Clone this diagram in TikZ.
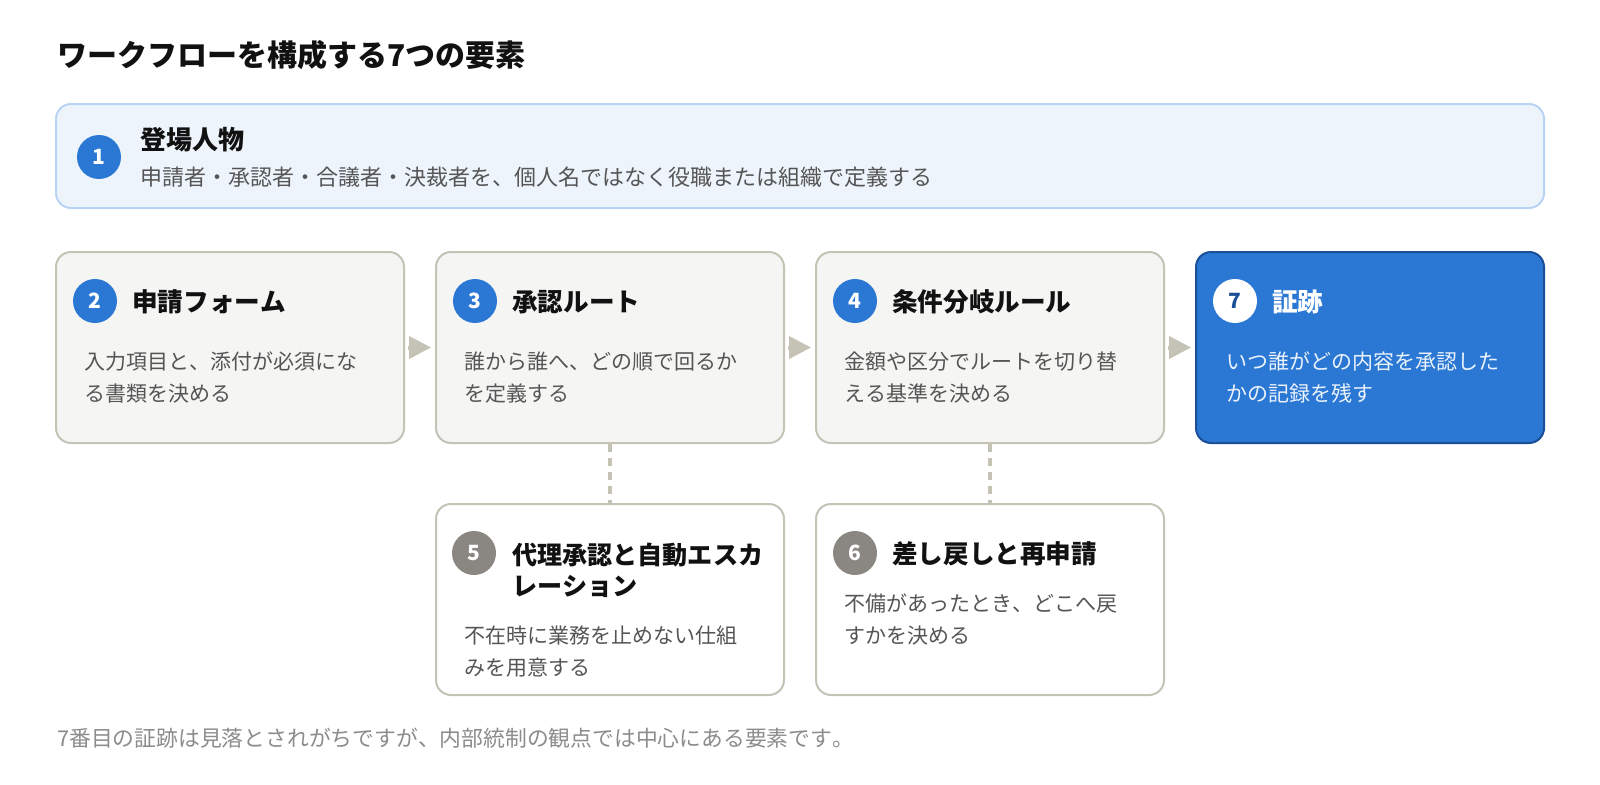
\documentclass[tikz,border=0pt]{standalone}
\usepackage{fontspec}
\setmainfont{Noto Sans CJK JP}[Kerning=Off]
\usetikzlibrary{arrows.meta}
\definecolor{blueA}{HTML}{2B78D4}
\definecolor{blueB}{HTML}{1B4F98}
\definecolor{lblue}{HTML}{EDF4FC}
\definecolor{lblueB}{HTML}{B8D4F4}
\definecolor{grayF}{HTML}{F5F5F3}
\definecolor{grayB}{HTML}{C4C3B6}
\definecolor{grayC}{HTML}{8A8782}
\definecolor{txt}{HTML}{111111}
\definecolor{dtxt}{HTML}{555555}
\definecolor{notec}{HTML}{8C8C8C}
\definecolor{wtxt}{HTML}{EAF2FC}
\tikzset{
  box/.style={draw=grayB, line width=2pt, fill=grayF, rounded corners=15pt,
    minimum width=348pt, minimum height=191pt, inner sep=0pt},
  circ/.style={circle, fill=blueA, minimum size=44pt, inner sep=0pt, text=white,
    font=\bfseries\fontsize{21}{21}\selectfont},
  ttl/.style={anchor=west, inner sep=0pt, text=txt, align=left,
    font=\bfseries\fontsize{25.6}{31}\selectfont},
  dsc/.style={anchor=west, inner sep=0pt, text=dtxt, align=left,
    font=\fontsize{21}{32}\selectfont},
  flow/.style={draw=grayB, line width=4pt, shorten <=3pt, shorten >=4pt,
    -{Triangle[length=22pt,width=22pt]}},
  side/.style={draw=grayB, line width=4pt, dash pattern=on 8pt off 6pt},
}
\begin{document}
\begin{tikzpicture}[x=1pt,y=-1pt]
\useasboundingbox (0,0) rectangle (1600,784);
\fill[white] (0,0) rectangle (1600,784);

\node[anchor=west, inner sep=0pt, text=txt, font=\bfseries\fontsize{30}{30}\selectfont]
  (title) at (57,55) {ワークフローを構成する7つの要素};

% box 1
\node[box, fill=lblue, draw=lblueB, minimum width=1488pt, minimum height=104pt] (b1) at (800,156) {};
\node[circ] (c1) at ([shift={(44,54)}]b1.north west) {1};
\node[ttl, font=\bfseries\fontsize{26}{31}\selectfont] (t1) at ([shift={(85,37)}]b1.north west) {登場人物};
\node[dsc, font=\fontsize{22}{32}\selectfont] (d1) at ([shift={(85,74)}]b1.north west) {申請者・承認者・合議者・決裁者を、個人名ではなく役職または組織で定義する};

% row boxes
\node[box] (b2) at (230,347.5) {};
\node[box] (b3) at (610,347.5) {};
\node[box] (b4) at (990,347.5) {};
\node[box, fill=blueA, draw=blueB] (b7) at (1370,347.5) {};
\node[box, fill=white] (b5) at (610,599.5) {};
\node[box, fill=white] (b6) at (990,599.5) {};

\node[circ] (c2) at ([shift={(40,50)}]b2.north west) {2};
\node[ttl] (t2) at ([shift={(77,51)}]b2.north west) {申請フォーム};
\node[dsc] (d2) at ([shift={(29,126.5)}]b2.north west) {入力項目と、添付が必須にな\\る書類を決める};

\node[circ] (c3) at ([shift={(40,50)}]b3.north west) {3};
\node[ttl] (t3) at ([shift={(77,51)}]b3.north west) {承認ルート};
\node[dsc] (d3) at ([shift={(29,126.5)}]b3.north west) {誰から誰へ、どの順で回るか\\を定義する};

\node[circ] (c4) at ([shift={(40,50)}]b4.north west) {4};
\node[ttl] (t4) at ([shift={(77,51)}]b4.north west) {条件分岐ルール};
\node[dsc] (d4) at ([shift={(29,126.5)}]b4.north west) {金額や区分でルートを切り替\\える基準を決める};

\node[circ, fill=white, text=blueB] (c7) at ([shift={(40,50)}]b7.north west) {7};
\node[ttl, text=white] (t7) at ([shift={(77,51)}]b7.north west) {証跡};
\node[dsc, text=wtxt] (d7) at ([shift={(31,126.5)}]b7.north west) {いつ誰がどの内容を承認した\\かの記録を残す};

\node[circ, fill=grayC] (c5) at ([shift={(39,50)}]b5.north west) {5};
\node[ttl, font=\bfseries\fontsize{25.1}{31}\selectfont] (t5) at ([shift={(77,67)}]b5.north west) {代理承認と自動エスカ\\レーション};
\node[dsc] (d5) at ([shift={(29,149)}]b5.north west) {不在時に業務を止めない仕組\\みを用意する};

\node[circ, fill=grayC] (c6) at ([shift={(40,50)}]b6.north west) {6};
\node[ttl] (t6) at ([shift={(77,51)}]b6.north west) {差し戻しと再申請};
\node[dsc] (d6) at ([shift={(29,116.5)}]b6.north west) {不備があったとき、どこへ戻\\すかを決める};

% connectors
\draw[flow] (b2) -- (b3);
\draw[flow] (b3) -- (b4);
\draw[flow] (b4) -- (b7);
\draw[side] (b3.south) -- (b5.north);
\draw[side] (b4.south) -- (b6.north);

\node[anchor=west, inner sep=0pt, text=notec, font=\fontsize{21.8}{22}\selectfont]
  (note) at (57,738) {7番目の証跡は見落とされがちですが、内部統制の観点では中心にある要素です。};
\end{tikzpicture}
\end{document}
